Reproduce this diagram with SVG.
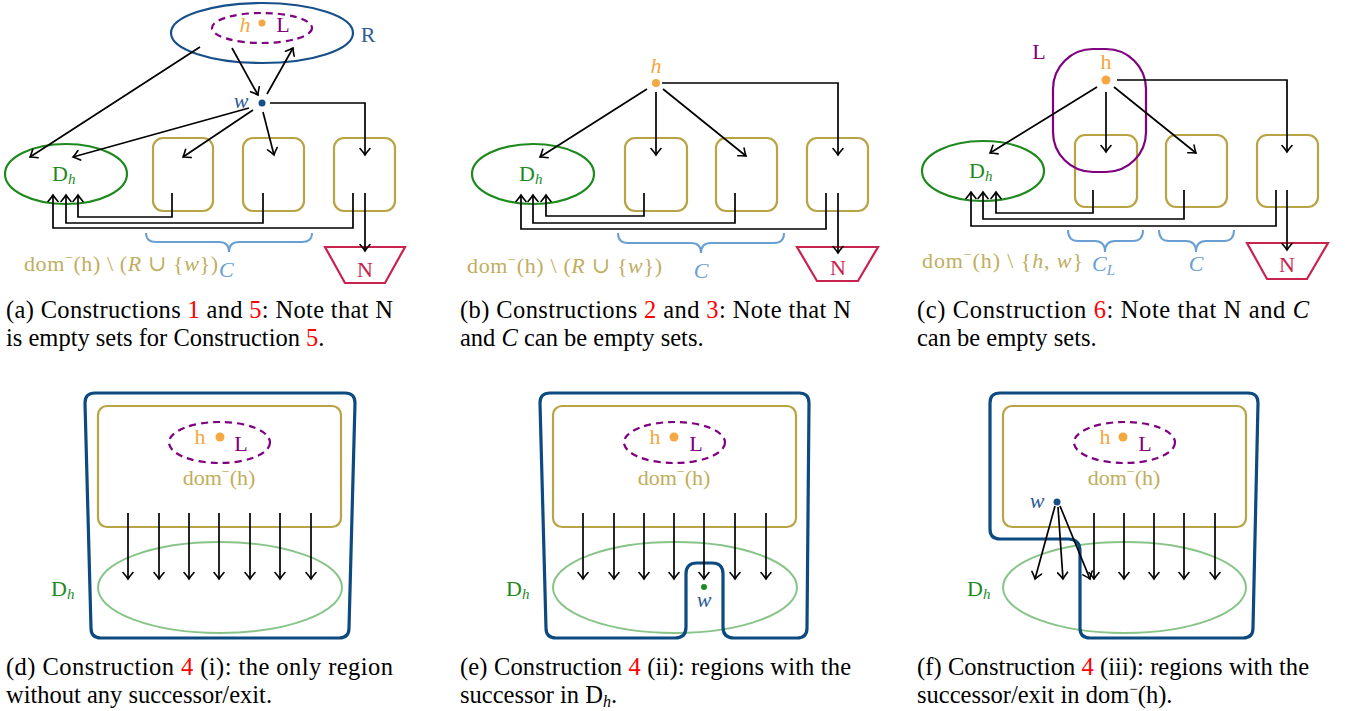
<svg xmlns="http://www.w3.org/2000/svg" width="1347" height="711" viewBox="0 0 1347 711">
  <style>
    text { font-family: "Liberation Serif", "DejaVu Serif", serif; }
    .lbl { font-size: 22px; }
    .cap { font-size: 24.5px; fill: #000; }
    .red { fill: #ff0000; }
    .it { font-style: italic; }
    .gold { fill: #bfae5e; }
    .orange { fill: #f5a742; }
    .purple { fill: #800080; }
    .green { fill: #1e8a1e; }
    .blue { fill: #2d5d9a; }
    .lblue { fill: #6a9fd4; }
    .crimson { fill: #c8234f; }
    .box { fill: none; stroke: #b8a445; stroke-width: 2.2; }
    .dom { fill: none; stroke: #1e8a1e; stroke-width: 2.2; }
    .dom2 { fill: none; stroke: #88c488; stroke-width: 2; }
    .loop { fill: none; stroke: #800080; stroke-width: 2.2; stroke-dasharray: 7 5; }
    .reg { fill: none; stroke: #174f8a; stroke-width: 2.2; }
    .outer { fill: none; stroke: #0d4a80; stroke-width: 3.2; stroke-linejoin: round; }
    .brace { fill: none; stroke: #6a9fd4; stroke-width: 2; }
    .exit { fill: none; stroke: #c8234f; stroke-width: 2.2; }
    .edge { fill: none; stroke: #000; stroke-width: 1.7; marker-end: url(#ah); }
  </style>
  <defs>
    <marker id="ah" viewBox="-8 -6 10 12" markerWidth="10" markerHeight="12" refX="0" refY="0" orient="auto" markerUnits="userSpaceOnUse">
      <path d="M-6.5,-5 Q-2.5,-1.5 0,0 Q-2.5,1.5 -6.5,5" fill="none" stroke="#000" stroke-width="1.6" stroke-linecap="round"/>
    </marker>
  </defs>

  <!-- ========== (a) ========== -->
  <g id="a-R">
    <ellipse cx="262" cy="33" rx="91" ry="30" class="reg"/>
    <text x="368" y="42" class="lbl blue" text-anchor="middle">R</text>
  </g>
  <g id="a-L">
    <ellipse cx="262" cy="28" rx="50" ry="15" class="loop"/>
    <text x="245" y="32" class="lbl orange it" text-anchor="middle">h</text>
    <circle cx="262" cy="23" r="3.5" fill="#f5a742"/>
    <text x="283" y="32" class="lbl purple" text-anchor="middle">L</text>
  </g>
  <g id="a-w">
    <circle cx="262" cy="103" r="3.5" fill="#174f8a"/>
    <text x="241" y="108" class="lbl blue it" text-anchor="middle">w</text>
  </g>
  <g id="a-Dh">
    <ellipse cx="66" cy="174" rx="61" ry="30" class="dom"/>
    <text x="52" y="181" class="lbl green">D<tspan class="it" font-size="15" dy="3">h</tspan></text>
  </g>
  <g id="a-C1"><rect x="153" y="138" width="60" height="73" rx="10" class="box"/></g>
  <g id="a-C2"><rect x="243" y="138" width="61" height="73" rx="10" class="box"/></g>
  <g id="a-C3"><rect x="334" y="138" width="61" height="73" rx="10" class="box"/></g>
  <g id="a-N">
    <polygon points="325,247 405,247 385,283 345,283" class="exit"/>
    <text x="365" y="277" class="lbl crimson" text-anchor="middle">N</text>
  </g>
  <g id="a-labels">
    <path d="M146,233 Q146,242 156,242 L219,242 Q229,242 229,252 Q229,242 239,242 L302,242 Q312,242 312,233" class="brace"/>
    <text x="24" y="271" class="lbl gold" textLength="194" lengthAdjust="spacing">dom<tspan dy="-9" font-size="14">−</tspan><tspan dy="9">(h) \ (</tspan><tspan class="it">R</tspan> ∪ {<tspan class="it">w</tspan>})</text>
    <text x="219" y="277" class="lbl lblue it">C</text>
  </g>
  <g id="a-edges">
    <path d="M200,47 L30,157" class="edge"/>
    <path d="M232,48 L258,95" class="edge"/>
    <path d="M267,94 L293,48" class="edge"/>
    <path d="M249,108 L73,157" class="edge"/>
    <path d="M253,110 L183,157" class="edge"/>
    <path d="M263,112 L274,155" class="edge"/>
    <path d="M270,103 H365 V155" class="edge"/>
    <path d="M172,193 V217 H78 V195" class="edge"/>
    <path d="M263,193 V223 H66 V195" class="edge"/>
    <path d="M353,193 V228 H53 V195" class="edge"/>
    <path d="M365,193 V251" class="edge"/>
  </g>

  <!-- ========== (b) ========== -->
  <g id="b-h">
    <circle cx="656" cy="83" r="4" fill="#f5a742"/>
    <text x="656" y="73" class="lbl orange it" text-anchor="middle">h</text>
  </g>
  <g id="b-Dh">
    <ellipse cx="533" cy="174" rx="61" ry="30" class="dom"/>
    <text x="519" y="181" class="lbl green">D<tspan class="it" font-size="15" dy="3">h</tspan></text>
  </g>
  <g id="b-C1"><rect x="625" y="138" width="62" height="73" rx="10" class="box"/></g>
  <g id="b-C2"><rect x="716" y="138" width="61" height="73" rx="10" class="box"/></g>
  <g id="b-C3"><rect x="807" y="138" width="61" height="73" rx="10" class="box"/></g>
  <g id="b-N">
    <polygon points="797,247 878,247 858,281 817,281" class="exit"/>
    <text x="838" y="275" class="lbl crimson" text-anchor="middle">N</text>
  </g>
  <g id="b-labels">
    <path d="M618,233 Q618,243 628,243 L691,243 Q701,243 701,253 Q701,243 711,243 L774,243 Q784,243 784,233" class="brace"/>
    <text x="467" y="273" class="lbl gold" textLength="195" lengthAdjust="spacing">dom<tspan dy="-9" font-size="14">−</tspan><tspan dy="9">(h) \ (</tspan><tspan class="it">R</tspan> ∪ {<tspan class="it">w</tspan>})</text>
    <text x="701" y="278" class="lbl lblue it" text-anchor="middle">C</text>
  </g>
  <g id="b-edges">
    <path d="M647,89 L540,157" class="edge"/>
    <path d="M656,92 V155" class="edge"/>
    <path d="M663,89 L746,156" class="edge"/>
    <path d="M662,83 H838 V155" class="edge"/>
    <path d="M644,193 V216 H546 V195" class="edge"/>
    <path d="M735,193 V223 H533 V195" class="edge"/>
    <path d="M826,193 V229 H521 V195" class="edge"/>
    <path d="M838,193 V253" class="edge"/>
  </g>

  <!-- ========== (c) ========== -->
  <g id="c-C1"><rect x="1075" y="135" width="62" height="72" rx="10" class="box"/></g>
  <g id="c-C2"><rect x="1166" y="135" width="61" height="72" rx="10" class="box"/></g>
  <g id="c-C3"><rect x="1257" y="135" width="61" height="72" rx="10" class="box"/></g>
  <g id="c-L">
    <rect x="1053" y="49" width="93" height="123" rx="40" fill="none" stroke="#800080" stroke-width="2.2"/>
    <text x="1039" y="59" class="lbl purple" text-anchor="middle">L</text>
    <text x="1106" y="69" class="lbl orange" text-anchor="middle">h</text>
    <circle cx="1106" cy="80" r="4.5" fill="#f5a742"/>
  </g>
  <g id="c-Dh">
    <ellipse cx="983" cy="171" rx="61" ry="30" class="dom"/>
    <text x="969" y="178" class="lbl green">D<tspan class="it" font-size="15" dy="3">h</tspan></text>
  </g>
  <g id="c-N">
    <polygon points="1247,243 1328,243 1307,279 1267,279" class="exit"/>
    <text x="1287" y="272" class="lbl crimson" text-anchor="middle">N</text>
  </g>
  <g id="c-labels">
    <path d="M1068,230 Q1068,241 1078,241 L1095,241 Q1105,241 1105,252 Q1105,241 1115,241 L1133,241 Q1143,241 1143,230" class="brace"/>
    <path d="M1159,230 Q1159,241 1169,241 L1186,241 Q1196,241 1196,252 Q1196,241 1206,241 L1224,241 Q1234,241 1234,230" class="brace"/>
    <text x="922" y="268" class="lbl gold" textLength="161" lengthAdjust="spacing">dom<tspan dy="-9" font-size="14">−</tspan><tspan dy="9">(h) \ {</tspan><tspan class="it">h</tspan>, <tspan class="it">w</tspan>}</text>
    <text x="1092" y="271" class="lbl lblue it">C<tspan font-size="15" dy="4">L</tspan></text>
    <text x="1196" y="271" class="lbl lblue it" text-anchor="middle">C</text>
  </g>
  <g id="c-edges">
    <path d="M1097,87 L990,153" class="edge"/>
    <path d="M1106,92 V152" class="edge"/>
    <path d="M1114,87 L1196,153" class="edge"/>
    <path d="M1117,80 H1287 V152" class="edge"/>
    <path d="M1093,190 V213 H996 V192" class="edge"/>
    <path d="M1184,190 V219 H983 V192" class="edge"/>
    <path d="M1276,190 V226 H971 V192" class="edge"/>
    <path d="M1287,190 V250" class="edge"/>
  </g>

  <!-- ========== (d) ========== -->
  <g id="d-dom">
    <rect x="98" y="406" width="243" height="121" rx="9" class="box"/>
    <ellipse cx="219.5" cy="442.5" rx="50.5" ry="20.5" class="loop"/>
    <text x="200" y="444" class="lbl orange" text-anchor="middle">h</text>
    <circle cx="220" cy="437" r="4.5" fill="#f5a742"/>
    <text x="241" y="451" class="lbl purple" text-anchor="middle">L</text>
    <text x="219" y="485" class="lbl gold" text-anchor="middle">dom<tspan dy="-9" font-size="14">−</tspan><tspan dy="9">(h)</tspan></text>
  </g>
  <g id="d-Dh">
    <ellipse cx="220" cy="587.5" rx="122" ry="45.5" class="dom2"/>
    <text x="51" y="596" class="lbl green">D<tspan class="it" font-size="15" dy="3">h</tspan></text>
  </g>
  <g id="d-region">
    <path d="M95,393 L345,393 Q355,393 355,403 L349,628 Q349,638 339,638 L101,638 Q91,638 91,628 L85,403 Q85,393 95,393 Z" class="outer"/>
  </g>
  <g id="d-edges">
    <path d="M128,513 V579" class="edge"/>
    <path d="M159,513 V579" class="edge"/>
    <path d="M189,513 V579" class="edge"/>
    <path d="M219,513 V579" class="edge"/>
    <path d="M250,513 V579" class="edge"/>
    <path d="M280,513 V579" class="edge"/>
    <path d="M311,513 V579" class="edge"/>
  </g>

  <!-- ========== (e) ========== -->
  <g id="e-dom">
    <rect x="553" y="406" width="243" height="121" rx="9" class="box"/>
    <ellipse cx="674.5" cy="442.5" rx="50.5" ry="20.5" class="loop"/>
    <text x="655" y="444" class="lbl orange" text-anchor="middle">h</text>
    <circle cx="674" cy="437" r="4.5" fill="#f5a742"/>
    <text x="696" y="451" class="lbl purple" text-anchor="middle">L</text>
    <text x="674" y="485" class="lbl gold" text-anchor="middle">dom<tspan dy="-9" font-size="14">−</tspan><tspan dy="9">(h)</tspan></text>
  </g>
  <g id="e-Dh">
    <ellipse cx="675" cy="587.5" rx="122" ry="45.5" class="dom2"/>
    <text x="506" y="596" class="lbl green">D<tspan class="it" font-size="15" dy="3">h</tspan></text>
  </g>
  <g id="e-region">
    <path d="M550,393 L799,393 Q809,393 809,403 L807,628 Q807,638 797,638 L734,638 Q723,638 723,627 L723,574 Q723,563 712,563 L697,563 Q686,563 686,574 L686,627 Q686,638 675,638 L556,638 Q546,638 546,628 L540,403 Q540,393 550,393 Z" class="outer"/>
  </g>
  <g id="e-w">
    <circle cx="704" cy="587" r="3" fill="#1e8a1e"/>
    <text x="704" y="607" class="lbl blue it" text-anchor="middle">w</text>
  </g>
  <g id="e-edges">
    <path d="M583,513 V579" class="edge"/>
    <path d="M614,513 V579" class="edge"/>
    <path d="M644,513 V579" class="edge"/>
    <path d="M674,513 V579" class="edge"/>
    <path d="M704,513 V579" class="edge"/>
    <path d="M735,513 V579" class="edge"/>
    <path d="M766,513 V579" class="edge"/>
  </g>

  <!-- ========== (f) ========== -->
  <g id="f-dom">
    <rect x="1003" y="406" width="243" height="121" rx="9" class="box"/>
    <ellipse cx="1124.5" cy="442.5" rx="50.5" ry="20.5" class="loop"/>
    <text x="1105" y="444" class="lbl orange" text-anchor="middle">h</text>
    <circle cx="1123" cy="437" r="4.5" fill="#f5a742"/>
    <text x="1145" y="451" class="lbl purple" text-anchor="middle">L</text>
    <text x="1124" y="485" class="lbl gold" text-anchor="middle">dom<tspan dy="-9" font-size="14">−</tspan><tspan dy="9">(h)</tspan></text>
  </g>
  <g id="f-Dh">
    <ellipse cx="1124.5" cy="587.5" rx="121.5" ry="45.5" class="dom2"/>
    <text x="967" y="596" class="lbl green">D<tspan class="it" font-size="15" dy="3">h</tspan></text>
  </g>
  <g id="f-region">
    <path d="M1000,393 L1248,393 Q1258,393 1258,403 L1253,628 Q1253,638 1243,638 L1090,638 Q1080,638 1080,628 L1080,551 Q1080,539 1068,539 L1000,539 Q990,539 990,529 L990,403 Q990,393 1000,393 Z" class="outer"/>
  </g>
  <g id="f-w">
    <circle cx="1057" cy="502" r="3.5" fill="#174f8a"/>
    <text x="1037" y="508" class="lbl blue it" text-anchor="middle">w</text>
  </g>
  <g id="f-edges">
    <path d="M1055,506 L1035,579" class="edge"/>
    <path d="M1058,507 L1063,579" class="edge"/>
    <path d="M1060,506 L1090,579" class="edge"/>
    <path d="M1094,513 V579" class="edge"/>
    <path d="M1124,513 V579" class="edge"/>
    <path d="M1154,513 V579" class="edge"/>
    <path d="M1184,513 V579" class="edge"/>
    <path d="M1215,513 V579" class="edge"/>
  </g>

  <!-- ========== captions ========== -->
  <g id="captions" class="cap">
    <text x="6" y="318" class="cap" textLength="387" lengthAdjust="spacing">(a) Constructions <tspan class="red">1</tspan> and <tspan class="red">5</tspan>: Note that N</text>
    <text x="6" y="346" class="cap">is empty sets for Construction <tspan class="red">5</tspan>.</text>
    <text x="460" y="318" class="cap" textLength="391" lengthAdjust="spacing">(b) Constructions <tspan class="red">2</tspan> and <tspan class="red">3</tspan>: Note that N</text>
    <text x="460" y="346" class="cap">and <tspan class="it">C</tspan> can be empty sets.</text>
    <text x="917" y="318" class="cap" textLength="392" lengthAdjust="spacing">(c) Construction <tspan class="red">6</tspan>: Note that N and <tspan class="it">C</tspan></text>
    <text x="917" y="346" class="cap">can be empty sets.</text>
    <text x="6" y="675" class="cap" textLength="387" lengthAdjust="spacing">(d) Construction <tspan class="red">4</tspan> (i): the only region</text>
    <text x="6" y="703" class="cap">without any successor/exit.</text>
    <text x="460" y="675" class="cap" textLength="391" lengthAdjust="spacing">(e) Construction <tspan class="red">4</tspan> (ii): regions with the</text>
    <text x="460" y="703" class="cap">successor in D<tspan font-size="16" class="it" dy="4">h</tspan><tspan dy="-4">.</tspan></text>
    <text x="917" y="675" class="cap" textLength="392" lengthAdjust="spacing">(f) Construction <tspan class="red">4</tspan> (iii): regions with the</text>
    <text x="917" y="703" class="cap">successor/exit in dom<tspan font-size="15" dy="-9">−</tspan><tspan dy="9">(h).</tspan></text>
  </g>
</svg>
